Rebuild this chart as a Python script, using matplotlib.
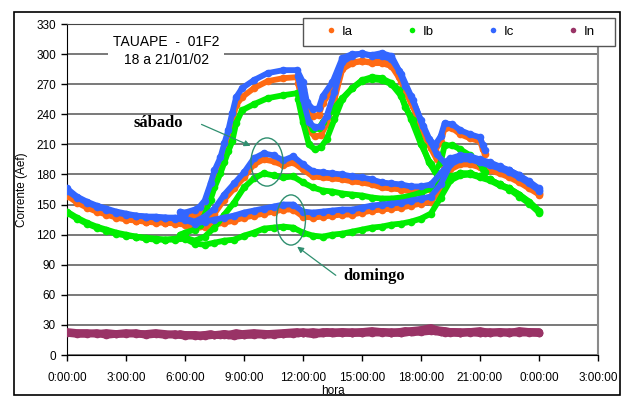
import matplotlib
matplotlib.use('Agg')
import matplotlib.pyplot as plt
from matplotlib.patches import Ellipse, Rectangle
from matplotlib.lines import Line2D

plt.rcParams['font.family'] = ['Liberation Sans', 'DejaVu Sans']

# horas de cada trecho (dias 18 a 21/01/02)
util_h = [5.75, 6.0, 6.5, 6.75, 7.0, 7.3, 7.5, 7.8, 8.0, 8.2, 8.4, 8.6, 8.9, 9.5, 10.2,
          11.0, 11.7, 12.0, 12.2, 12.5, 12.8, 13.0, 13.5, 14.0, 14.5, 15.0, 15.5, 16.0, 16.5, 16.9,
          17.2, 17.6, 18.1, 18.4, 18.7, 19.0, 19.2, 19.6, 20.0, 20.5, 21.0, 21.15, 21.25]
util2_h = [11.75, 12.0, 12.3, 12.6, 12.9, 13.2, 13.6, 14.0, 14.5, 15.0, 15.5, 16.0, 16.5, 17.0, 17.5,
           18.0, 18.5, 18.8, 19.2, 19.5, 20.0, 20.5, 21.0, 21.5, 22.0, 22.5, 23.0, 23.5, 24.0]
fds_h = [0.0, 0.5, 1.0, 1.5, 2.0, 2.5, 3.0, 3.5, 4.0, 4.5, 5.0, 5.5, 6.0, 6.5, 7.0, 7.5, 8.0, 8.5,
         9.0, 9.5, 10.0, 10.5, 11.0, 11.5, 12.0, 12.5, 13.0, 13.5, 14.0, 14.5, 15.0, 15.5, 16.0, 16.5,
         17.0, 17.5, 18.0, 18.5, 19.0, 19.5, 20.0, 20.5, 21.0, 21.5, 22.0, 22.5, 23.0, 23.5, 24.0]

# dia util (pico alto)
ia_util = [139, 137, 140, 143, 149, 165, 178, 190, 204, 217, 233, 249, 257, 266, 273,
           276, 277, 265, 245, 238, 239, 251, 265, 288, 292, 293, 292, 294, 291, 277,
           262, 248, 222, 210, 204, 212, 226, 226, 220, 216, 213, 205, 200]
ib_util = [120, 122, 125, 130, 140, 155, 167, 181, 192, 203, 213, 231, 244, 250, 256,
           259, 261, 250, 235, 225, 226, 232, 244, 256, 266, 274, 277, 276, 271, 264,
           247, 234, 208, 192, 183, 192, 209, 209, 205, 199, 191, 185, 182]
ic_util = [143, 142, 145, 148, 154, 171, 184, 197, 211, 224, 241, 257, 266, 274, 281,
           284, 284, 272, 252, 245, 246, 258, 272, 296, 300, 300, 299, 301, 298, 283,
           268, 254, 228, 215, 209, 218, 231, 230, 224, 220, 217, 209, 204]
in_util = [21, 20, 20, 19, 20, 21, 20, 20, 21, 20, 21, 22, 21, 22, 21,
           22, 23, 22, 22, 21, 22, 23, 22, 22, 23, 22, 23, 23, 22, 23,
           24, 23, 25, 26, 24, 23, 22, 23, 22, 23, 22, 23, 22]

# segundo dia util (tarde/noite)
ia_util2 = [271, 248, 224, 218, 219, 230, 255, 285, 291, 293, 291, 291, 288, 273, 252,
            228, 206, 195, 187, 191, 194, 193, 190, 187, 183, 179, 174, 168, 162]
ib_util2 = [255, 232, 210, 205, 207, 215, 235, 255, 266, 273, 275, 274, 270, 258, 235,
            210, 190, 180, 172, 176, 181, 181, 178, 175, 170, 166, 160, 152, 143]
ic_util2 = [278, 255, 232, 227, 228, 238, 262, 292, 298, 301, 298, 298, 295, 280, 258,
            234, 212, 200, 192, 196, 199, 198, 195, 192, 188, 184, 179, 173, 166]
in_util2 = [22, 23, 22, 21, 22, 23, 22, 23, 22, 23, 24, 23, 22, 23, 24,
            25, 27, 25, 24, 23, 22, 23, 24, 22, 23, 22, 24, 23, 22]

# sabado
ia_sab = [161, 153, 148, 144, 141, 138, 136, 134, 133, 133, 132, 132, 131, 128, 133, 141, 155, 166,
          177, 190, 195, 193, 189, 192, 185, 178, 177, 176, 175, 173, 172, 170, 167, 166,
          165, 163, 163, 165, 176, 188, 192, 191, 189, 186, 182, 179, 174, 167, 161]
ib_sab = [143, 137, 132, 128, 125, 122, 120, 118, 117, 116, 115, 116, 117, 114, 118, 127, 140, 152,
          167, 176, 181, 179, 177, 178, 172, 167, 164, 163, 161, 160, 159, 157, 156, 156,
          157, 159, 162, 166, 172, 178, 181, 181, 178, 175, 170, 166, 160, 153, 144]
ic_sab = [166, 158, 153, 149, 146, 143, 141, 139, 138, 138, 137, 137, 136, 133, 138, 146, 160, 171,
          182, 196, 201, 199, 194, 198, 190, 183, 182, 181, 180, 178, 177, 175, 172, 171,
          170, 168, 168, 170, 181, 193, 197, 196, 194, 191, 187, 184, 179, 172, 165]
in_sab = [23, 22, 22, 21, 22, 21, 22, 21, 21, 22, 21, 20, 20, 19, 20, 20, 21, 20,
          20, 21, 20, 21, 21, 22, 22, 23, 22, 23, 22, 22, 23, 22, 23, 22,
          22, 23, 24, 25, 24, 23, 23, 22, 23, 22, 23, 22, 23, 22, 22]

# domingo
ia_dom = [159, 152, 147, 143, 140, 137, 135, 134, 133, 132, 132, 131, 130, 126, 128, 130, 132, 134,
          137, 139, 141, 143, 145, 145, 138, 137, 138, 139, 140, 140, 142, 144, 145, 146,
          147, 149, 151, 153, 165, 185, 190, 190, 187, 184, 181, 177, 172, 166, 160]
ib_dom = [142, 136, 131, 127, 124, 121, 119, 118, 116, 115, 115, 115, 116, 111, 110, 112, 114, 115,
          119, 122, 126, 127, 128, 127, 122, 119, 118, 120, 121, 123, 125, 127, 128, 130,
          131, 133, 136, 141, 157, 174, 179, 180, 177, 174, 169, 165, 158, 151, 142]
ic_dom = [164, 157, 152, 148, 145, 142, 140, 139, 138, 137, 137, 136, 135, 131, 133, 135, 137, 139,
          142, 144, 146, 148, 150, 150, 143, 142, 143, 144, 145, 145, 147, 149, 150, 151,
          152, 154, 156, 158, 170, 190, 195, 195, 192, 189, 186, 182, 177, 171, 164]
in_dom = [22, 21, 21, 22, 20, 21, 21, 22, 20, 21, 20, 21, 19, 20, 19, 20, 20, 19,
          20, 20, 21, 20, 21, 21, 22, 21, 22, 22, 23, 22, 22, 23, 22, 23,
          22, 23, 23, 24, 23, 22, 22, 23, 22, 23, 22, 23, 22, 23, 23]

fases = ['Ia', 'Ib', 'Ic', 'In']
cores = ['#ff6a13', '#00ee00', '#3366ff', '#993366']
dados = {
    'Ia': [(util_h, ia_util), (util2_h, ia_util2), (fds_h, ia_sab), (fds_h, ia_dom)],
    'Ib': [(util_h, ib_util), (util2_h, ib_util2), (fds_h, ib_sab), (fds_h, ib_dom)],
    'Ic': [(util_h, ic_util), (util2_h, ic_util2), (fds_h, ic_sab), (fds_h, ic_dom)],
    'In': [(util_h, in_util), (util2_h, in_util2), (fds_h, in_sab), (fds_h, in_dom)],
}

xticks = [0, 3, 6, 9, 12, 15, 18, 21, 24, 27]
xlabels = ['0:00:00', '3:00:00', '6:00:00', '9:00:00', '12:00:00', '15:00:00',
           '18:00:00', '21:00:00', '0:00:00', '3:00:00']
yticks = list(range(0, 331, 30))

fig = plt.figure(figsize=(6.23, 3.96), dpi=100)
ax = fig.add_axes([67/623, 1-355/396, 531/623, 331/396])

for f, c in zip(fases, cores):
    lw = 5.5 if f == 'In' else 4.2
    for t, v in dados[f]:
        ax.plot(t, v, color=c, lw=lw, marker='o', ms=5.5, mew=0, solid_capstyle='round', zorder=3)

ax.set_xlim(0, 27)
ax.set_ylim(0, 330)
ax.set_xticks(xticks)
ax.set_xticklabels(xlabels)
ax.set_yticks(yticks)
ax.tick_params(direction='out', length=4, width=1, labelsize=8.5)
ax.tick_params(axis='x', pad=8)
ax.tick_params(axis='y', pad=4)
ax.grid(axis='y', color='#6e6e6e', lw=1.3, zorder=0)
ax.set_axisbelow(True)
ax.spines['top'].set_color('#444444')
ax.spines['right'].set_color('#8a8a8a')
ax.spines['right'].set_linewidth(1.5)
ax.set_xlabel('hora', fontsize=8.5, labelpad=1)
ax.set_ylabel('Corrente (Aef)', fontsize=8.5)
ax.yaxis.set_label_coords(-0.073, 0.5)

# caixa do titulo
ax.add_patch(Rectangle((2.08, 284), 5.9, 40, facecolor='white', edgecolor='none', zorder=2))
ax.text(5.03, 312, 'TAUAPE  -  01F2', ha='center', va='center', fontsize=10, zorder=4)
ax.text(5.08, 294.5, '18 a 21/01/02', ha='center', va='center', fontsize=10, zorder=4)

# anotacoes
verde = '#2f8f6f'
ax.add_patch(Ellipse((10.17, 192.4), 1.63, 48, fill=False, edgecolor=verde, lw=1, zorder=5))
ax.add_patch(Ellipse((11.39, 134.6), 1.47, 50, fill=False, edgecolor=verde, lw=1, zorder=5))
ax.annotate('', xy=(9.46, 207.4), xytext=(6.71, 231),
            arrowprops=dict(arrowstyle='-|>', color=verde, lw=0.9, mutation_scale=9), zorder=5)
ax.annotate('', xy=(11.59, 109.7), xytext=(13.78, 77.8),
            arrowprops=dict(arrowstyle='-|>', color=verde, lw=0.9, mutation_scale=9), zorder=5)
ax.text(3.36, 231, 'sábado', ha='left', va='center', fontsize=12, fontweight='bold',
        family='Liberation Serif', zorder=5)
ax.text(14.03, 78.8, 'domingo', ha='left', va='center', fontsize=12, fontweight='bold',
        family='Liberation Serif', zorder=5)

# legenda
fig.add_artist(Rectangle((303/623, 1-46/396), 312/623, 28/396, transform=fig.transFigure,
                         facecolor='white', edgecolor='#555555', lw=1, zorder=10))
handles = [Line2D([], [], color=c, ls='none', marker='o', ms=4, mew=0) for c in cores]
leg = fig.legend(handles, fases, ncol=4, loc='center', bbox_to_anchor=(461/623, 1-32/396),
                 frameon=False, fontsize=9.5, handlelength=0.6, handletextpad=0.5,
                 columnspacing=4.2)
leg.set_zorder(11)

# moldura do grafico
fig.add_artist(Rectangle((14/623, 1-395/396), 606/623, 383/396, transform=fig.transFigure,
                         facecolor='none', edgecolor='black', lw=1.2, zorder=12))

fig.savefig('out.png', dpi=100)
